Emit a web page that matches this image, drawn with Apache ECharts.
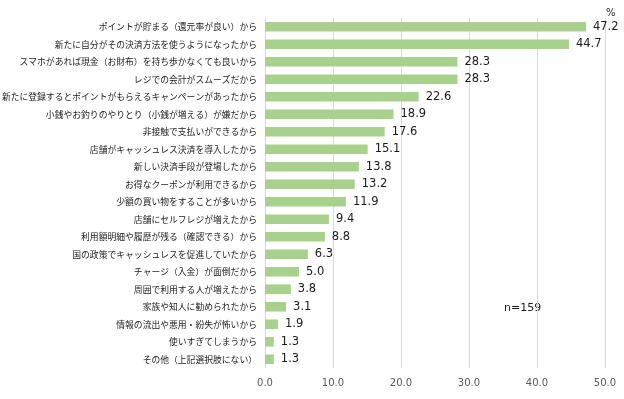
<!DOCTYPE html>
<html>
<head>
    <meta charset="utf-8">
    <title>ECharts</title>
    <script src="https://cdn.jsdelivr.net/npm/echarts@6/dist/echarts.min.js"></script>
</head>
<body style="margin:0;">
<div id="main" style="width: 624px; height:399px;"></div>
<script type="text/javascript">
    // 理由（上から順）
    var categories = [
        'ポイントが貯まる（還元率が良い）から',
        '新たに自分がその決済方法を使うようになったから',
        'スマホがあれば現金（お財布）を持ち歩かなくても良いから',
        'レジでの会計がスムーズだから',
        '新たに登録するとポイントがもらえるキャンペーンがあったから',
        '小銭やお釣りのやりとり（小銭が増える）が嫌だから',
        '非接触で支払いができるから',
        '店舗がキャッシュレス決済を導入したから',
        '新しい決済手段が登場したから',
        'お得なクーポンが利用できるから',
        '少額の買い物をすることが多いから',
        '店舗にセルフレジが増えたから',
        '利用額明細や履歴が残る（確認できる）から',
        '国の政策でキャッシュレスを促進していたから',
        'チャージ（入金）が面倒だから',
        '周囲で利用する人が増えたから',
        '家族や知人に勧められたから',
        '情報の流出や悪用・紛失が怖いから',
        '使いすぎてしまうから',
        'その他（上記選択肢にない）'
    ];
    var values = [47.2, 44.7, 28.3, 28.3, 22.6, 18.9, 17.6, 15.1, 13.8, 13.2, 11.9, 9.4, 8.8, 6.3, 5.0, 3.8, 3.1, 1.9, 1.3, 1.3];
    var xTicks = [0, 10, 20, 30, 40, 50];

    var myChart = echarts.init(document.getElementById('main'));
    var font = '"Noto Sans CJK JP", "Noto Sans", sans-serif';
    var numFont = '"DejaVu Sans", sans-serif';

    var option = {
        backgroundColor: '#ffffff',
        animation: false,
        grid: {
            left: 265,
            right: 19,
            top: 18,
            bottom: 31,
            outerBoundsMode: 'none'
        },
        xAxis: {
            type: 'value',
            min: xTicks[0],
            max: xTicks[xTicks.length - 1],
            interval: 10,
            axisLine: { show: false },
            axisTick: { show: false },
            splitLine: { lineStyle: { color: '#d9d9d9', width: 1 } },
            axisLabel: {
                color: '#595959',
                fontSize: 10,
                fontFamily: numFont,
                margin: 10,
                formatter: function (v) { return v.toFixed(1); }
            }
        },
        yAxis: {
            type: 'category',
            inverse: true,
            data: categories,
            axisLine: { lineStyle: { color: '#d9d9d9' } },
            axisTick: { show: false },
            axisLabel: {
                color: '#1a1a1a',
                fontSize: 8.8,
                fontFamily: font,
                margin: 8
            }
        },
        series: [
            {
                type: 'bar',
                data: values,
                barCategoryGap: '45%',
                itemStyle: { color: '#a9d18e' },
                label: {
                    show: true,
                    position: 'right',
                    distance: 7,
                    color: '#1a1a1a',
                    fontSize: 11.5,
                    fontFamily: numFont,
                    formatter: function (p) { return p.value.toFixed(1); }
                }
            }
        ],
        graphic: [
            {
                type: 'text',
                left: 606,
                top: 8,
                style: { text: '%', fill: '#1a1a1a', fontSize: 10, fontFamily: numFont }
            },
            {
                type: 'text',
                left: 504,
                top: 303,
                style: { text: 'n=159', fill: '#1a1a1a', fontSize: 11, fontFamily: numFont }
            }
        ]
    };

    myChart.setOption(option);
</script>
</body>
</html>
